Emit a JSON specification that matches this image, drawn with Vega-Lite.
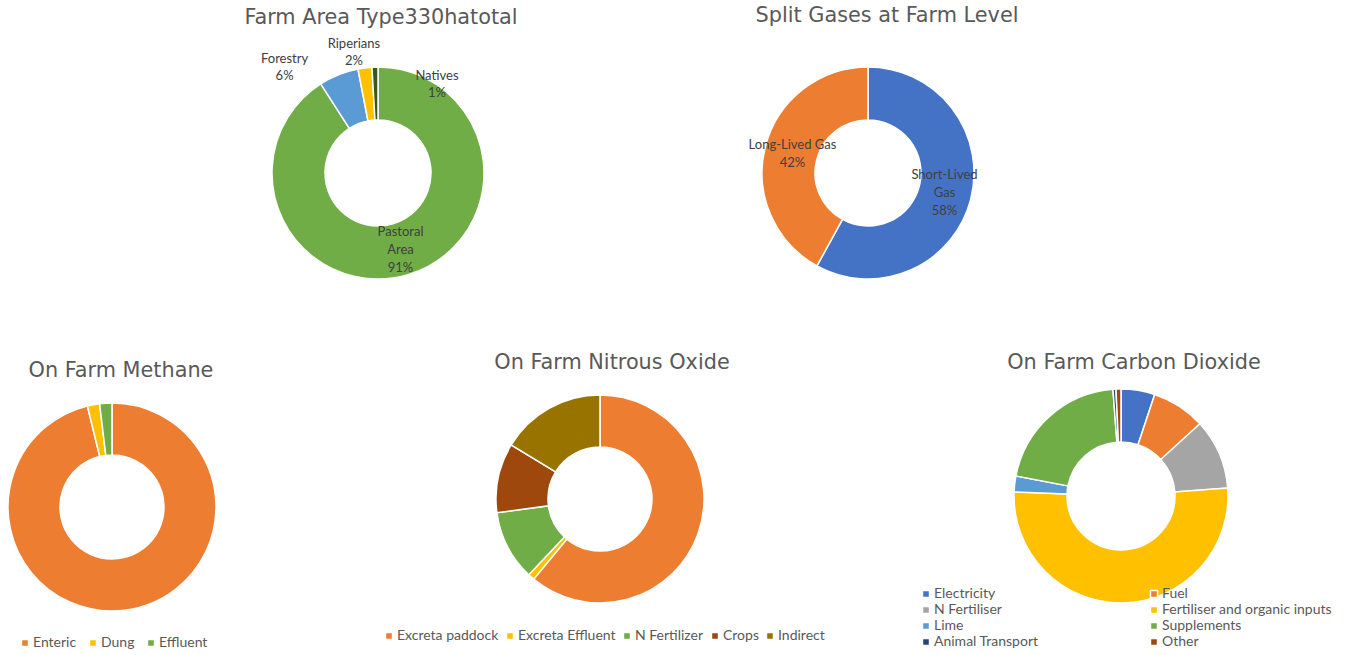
{
  "$schema": "https://vega.github.io/schema/vega-lite/v6.json",
  "padding": 5,
  "background": "white",
  "config": {
    "view": {"stroke": null},
    "font": "Lato",
    "title": {"font": "DejaVu Sans", "fontSize": 20.8, "fontWeight": "normal", "color": "#595959", "anchor": "middle", "frame": "group"},
    "legend": {"orient": "none", "direction": "horizontal", "symbolType": "square", "symbolSize": 50, "symbolStrokeWidth": 0, "labelFont": "Lato", "labelFontSize": 14, "labelColor": "#595959", "labelLimit": 300, "columnPadding": 4, "labelOffset": 1},
    "arc": {"stroke": "white", "strokeWidth": 1.5},
    "text": {"font": "Lato", "fontSize": 13, "color": "#404040"}
  },
  "spacing": 20,
  "resolve": {"scale": {"color": "independent"}},
  "vconcat": [
    {
      "hconcat": [
        {
          "title": {"text": "Farm Area Type330hatotal", "offset": 9, "dx": 3, "frame": "group"},
          "width": 746,
          "height": 232,
          "data": {"values": [
            {"area": "Pastoral Area", "ha": 300, "i": 1, "label": "Pastoral\nArea\n91%"},
            {"area": "Forestry", "ha": 20, "i": 2, "label": "Forestry\n6%"},
            {"area": "Riperians", "ha": 7, "i": 3, "label": "Riperians\n2%"},
            {"area": "Natives", "ha": 3, "i": 4, "label": "Natives\n1%"}
          ]},
          "encoding": {
            "theta": {"field": "ha", "type": "quantitative", "stack": true},
            "order": {"field": "i", "type": "quantitative"}
          },
          "layer": [
            {
              "mark": {"type": "arc", "outerRadius": 106, "innerRadius": 53},
              "encoding": {
                "color": {"field": "area", "type": "nominal", "scale": {"domain": ["Pastoral Area", "Forestry", "Riperians", "Natives"], "range": ["#70AD47", "#5B9BD5", "#FFC000", "#385723"]}, "legend": null}
              }
            },
            {
              "mark": {"type": "text", "radius": 80, "dy": -18, "lineBreak": "\n", "lineHeight": 18},
              "encoding": {"text": {"condition": {"test": "datum.area === 'Pastoral Area'", "field": "label"}, "value": ""}}
            },
            {
              "mark": {"type": "text", "radius": 141, "dx": -41, "dy": 16.5, "lineBreak": "\n", "lineHeight": 17},
              "encoding": {"text": {"condition": {"test": "datum.area === 'Forestry'", "field": "label"}, "value": ""}}
            },
            {
              "mark": {"type": "text", "radius": 122, "dx": -9, "dy": -7.5, "lineBreak": "\n", "lineHeight": 17},
              "encoding": {"text": {"condition": {"test": "datum.area === 'Riperians'", "field": "label"}, "value": ""}}
            },
            {
              "mark": {"type": "text", "radius": 107, "dx": 62, "dy": 9.5, "lineBreak": "\n", "lineHeight": 17},
              "encoding": {"text": {"condition": {"test": "datum.area === 'Natives'", "field": "label"}, "value": ""}}
            }
          ]
        },
        {
          "title": {"text": "Split Gases at Farm Level", "offset": 30, "dx": 19, "frame": "group"},
          "width": 214,
          "height": 232,
          "data": {"values": [
            {"gas": "Short-Lived Gas", "share": 58, "i": 1, "label": "Short-Lived\nGas\n58%"},
            {"gas": "Long-Lived Gas", "share": 42, "i": 2, "label": "Long-Lived Gas\n42%"}
          ]},
          "encoding": {
            "theta": {"field": "share", "type": "quantitative", "stack": true},
            "order": {"field": "i", "type": "quantitative"}
          },
          "layer": [
            {
              "mark": {"type": "arc", "outerRadius": 106, "innerRadius": 53},
              "encoding": {
                "color": {"field": "gas", "type": "nominal", "scale": {"domain": ["Short-Lived Gas", "Long-Lived Gas"], "range": ["#4472C4", "#ED7D31"]}, "legend": null}
              }
            },
            {
              "mark": {"type": "text", "radius": 79, "dy": -18, "lineBreak": "\n", "lineHeight": 18},
              "encoding": {"text": {"condition": {"test": "datum.gas === 'Short-Lived Gas'", "field": "label"}, "value": ""}}
            },
            {
              "mark": {"type": "text", "radius": 78, "dy": -9, "lineBreak": "\n", "lineHeight": 18},
              "encoding": {"text": {"condition": {"test": "datum.gas === 'Long-Lived Gas'", "field": "label"}, "value": ""}}
            }
          ]
        }
      ],
      "spacing": 10,
      "bounds": "flush",
      "resolve": {"scale": {"color": "independent"}}
    },
    {
      "hconcat": [
        {
          "title": {"text": "On Farm Methane", "offset": 8, "dx": 9, "frame": "group"},
          "width": 214,
          "height": 234,
          "data": {"values": [
            {"source": "Enteric", "share": 96.2, "i": 1},
            {"source": "Dung", "share": 1.9, "i": 2},
            {"source": "Effluent", "share": 1.9, "i": 3}
          ]},
          "mark": {"type": "arc", "outerRadius": 104, "innerRadius": 52},
          "encoding": {
            "theta": {"field": "share", "type": "quantitative", "stack": true},
            "order": {"field": "i", "type": "quantitative"},
            "color": {"field": "source", "type": "nominal", "scale": {"domain": ["Enteric", "Dung", "Effluent"], "range": ["#ED7D31", "#FFC000", "#70AD47"]}, "legend": {"title": null, "legendX": 13, "legendY": 246, "columnPadding": 9}}
          }
        },
        {
          "title": {"text": "On Farm Nitrous Oxide", "offset": 16, "dx": 12, "frame": "group"},
          "width": 762,
          "height": 218,
          "data": {"values": [
            {"source": "Excreta paddock", "share": 61.0, "i": 1},
            {"source": "Excreta Effluent", "share": 1.0, "i": 2},
            {"source": "N Fertilizer", "share": 10.9, "i": 3},
            {"source": "Crops", "share": 10.8, "i": 4},
            {"source": "Indirect", "share": 16.3, "i": 5}
          ]},
          "mark": {"type": "arc", "outerRadius": 104, "innerRadius": 52},
          "encoding": {
            "theta": {"field": "share", "type": "quantitative", "stack": true},
            "order": {"field": "i", "type": "quantitative"},
            "color": {"field": "source", "type": "nominal", "scale": {"domain": ["Excreta paddock", "Excreta Effluent", "N Fertilizer", "Crops", "Indirect"], "range": ["#ED7D31", "#FFC000", "#70AD47", "#9E480E", "#997300"]}, "legend": {"title": null, "legendX": 163, "legendY": 239}}
          }
        },
        {
          "title": {"text": "On Farm Carbon Dioxide", "offset": 12, "dx": 13, "frame": "group"},
          "width": 280,
          "height": 212,
          "data": {"values": [
            {"source": "Electricity", "share": 5.1, "i": 1},
            {"source": "Fuel", "share": 8.1, "i": 2},
            {"source": "N Fertiliser", "share": 10.6, "i": 3},
            {"source": "Fertiliser and organic inputs", "share": 51.8, "i": 4},
            {"source": "Lime", "share": 2.4, "i": 5},
            {"source": "Supplements", "share": 20.8, "i": 6},
            {"source": "Animal Transport", "share": 0.45, "i": 7},
            {"source": "Other", "share": 0.75, "i": 8}
          ]},
          "mark": {"type": "arc", "outerRadius": 107, "innerRadius": 54},
          "encoding": {
            "theta": {"field": "share", "type": "quantitative", "stack": true},
            "order": {"field": "i", "type": "quantitative"},
            "color": {"field": "source", "type": "nominal", "scale": {"domain": ["Electricity", "Fuel", "N Fertiliser", "Fertiliser and organic inputs", "Lime", "Supplements", "Animal Transport", "Other"], "range": ["#4472C4", "#ED7D31", "#A5A5A5", "#FFC000", "#5B9BD5", "#70AD47", "#264478", "#9E480E"]}, "legend": {"title": null, "legendX": -62, "legendY": 197, "columns": 2, "columnPadding": 108, "rowPadding": 2}}
          }
        }
      ],
      "spacing": 0,
      "bounds": "flush",
      "resolve": {"scale": {"color": "independent"}}
    }
  ]
}
